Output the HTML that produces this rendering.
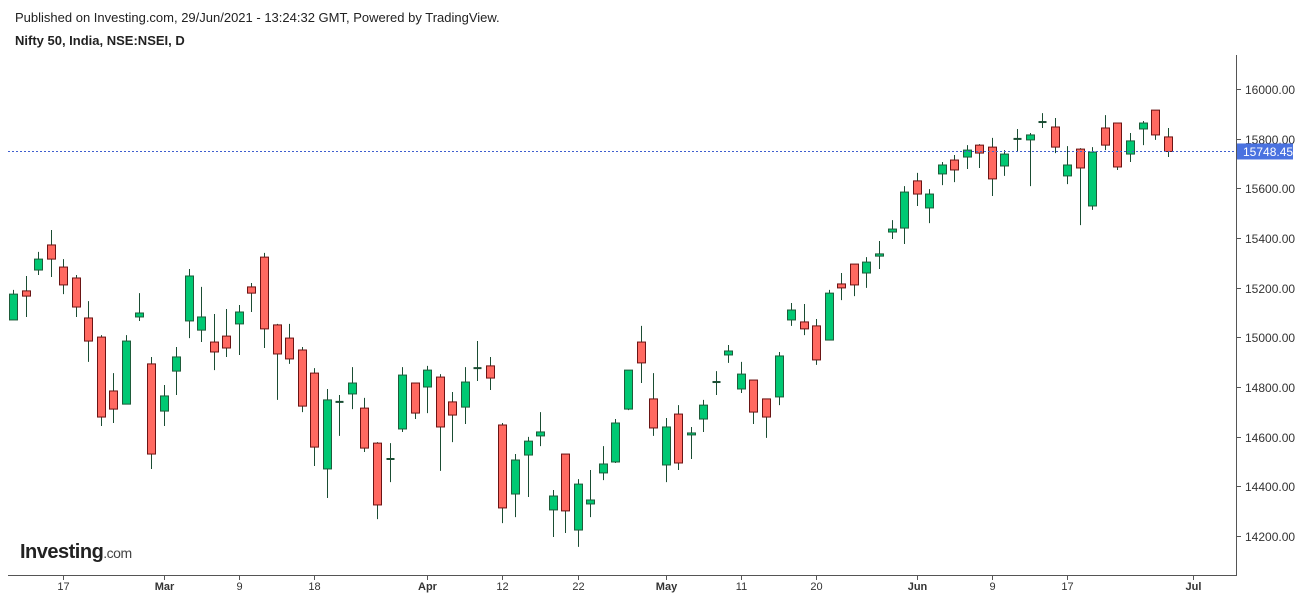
<!DOCTYPE html>
<html><head><meta charset="utf-8">
<style>
body{margin:0;background:#fff;font-family:"Liberation Sans",sans-serif;}
#wrap{position:relative;width:1299px;height:598px;overflow:hidden;}
.t1{position:absolute;left:15px;top:10px;font-size:13px;color:#222;}
.t2{position:absolute;left:15px;top:33px;font-size:13px;font-weight:bold;color:#222;}
svg text{font-family:"Liberation Sans",sans-serif;}
</style></head><body>
<div id="wrap">
<div class="t1">Published on Investing.com, 29/Jun/2021 - 13:24:32 GMT, Powered by TradingView.</div>
<div class="t2">Nifty 50, India, NSE:NSEI, D</div>
<svg id="svg" width="1299" height="598" style="position:absolute;left:0;top:0"></svg>
</div>
<script>
const opens=[15070,15187,15271,15372,15283,15239,15078,15001,14784,14731,15082,14893,14703,14864,15066,15029,14981,15005,15054,15203,15323,15050,14997,14949,14856,14470,14740,14772,14715,14574,14510,14631,14816,14800,14840,14740,14719,14876,14885,14647,14369,14526,14603,14305,14530,14224,14329,14454,14498,14711,14981,14752,14486,14691,14607,14671,14820,14929,14792,14828,14752,14760,15070,15062,15046,14989,15215,15295,15259,15327,15424,15440,15630,15521,15658,15714,15726,15774,15766,15690,15799,15795,15867,15847,15650,15758,15529,15843,15863,15738,15839,15915,15807];
const highs=[15191,15247,15344,15432,15315,15251,15146,15009,14856,15009,15178,14921,14808,14961,15275,15203,15094,15114,15130,15219,15340,15054,15054,14961,14876,14792,14768,14880,14756,14578,14574,14880,14816,14885,14852,14780,14880,14985,14921,14655,14530,14599,14699,14385,14530,14429,14466,14562,14671,14868,15046,14856,14675,14727,14639,14748,14864,14969,14901,14828,14752,14941,15138,15134,15074,15191,15259,15295,15323,15388,15472,15609,15662,15597,15706,15734,15774,15778,15803,15754,15839,15823,15903,15883,15770,15762,15766,15895,15863,15823,15871,15915,15843];
const lows=[15070,15082,15251,15243,15174,15082,14901,14643,14655,14731,15066,14470,14643,14768,14997,14981,14868,14921,14929,15102,14957,14748,14893,14699,14482,14353,14603,14711,14538,14268,14417,14619,14671,14695,14462,14578,14651,14824,14788,14252,14276,14357,14562,14196,14212,14156,14276,14425,14494,14707,14816,14603,14417,14466,14510,14619,14768,14897,14776,14651,14595,14727,15046,15009,14889,14989,15150,15166,15199,15275,15396,15376,15529,15460,15613,15625,15678,15682,15569,15650,15750,15609,15843,15742,15617,15452,15513,15754,15674,15706,15774,15795,15726];
const closes=[15174,15166,15315,15315,15211,15122,14985,14679,14711,14985,15098,14530,14764,14921,15247,15082,14941,14957,15102,15178,15034,14933,14913,14723,14558,14748,14740,14816,14554,14325,14510,14848,14695,14868,14639,14687,14820,14876,14836,14313,14506,14582,14619,14361,14301,14409,14345,14490,14655,14868,14897,14635,14639,14494,14615,14727,14820,14945,14852,14699,14679,14925,15110,15034,14909,15178,15199,15211,15303,15336,15436,15585,15577,15577,15694,15674,15754,15742,15638,15738,15799,15815,15867,15766,15694,15682,15746,15774,15686,15791,15863,15815,15748.45];
const yTicks=[14200,14400,14600,14800,15000,15200,15400,15600,15800,16000];
const xLabels=["17","Mar","9","18","Apr","12","22","May","11","20","Jun","9","17","Jul"];
const xLabelIdx=[4,12,18,24,33,39,45,52,58,64,72,78,84,94];
const lastPrice=15748.45;

const NS="http://www.w3.org/2000/svg";
const svg=document.getElementById('svg');
function y(v){return 89+(16000-v)*0.24833;}
function x(i){return 13+i*12.55;}
function mk(tag,attrs,parent){const e=document.createElementNS(NS,tag);for(const k in attrs)e.setAttribute(k,attrs[k]);(parent||svg).appendChild(e);return e;}

// axes
let ax=mk('line',{x1:1236.5,y1:55,x2:1236.5,y2:575,stroke:'#555','stroke-width':1});


let bx=mk('line',{x1:8,y1:575.5,x2:1237,y2:575.5,stroke:'#555','stroke-width':1});



yTicks.forEach(v=>{
  const yy=Math.round(y(v))+0.5;
  let tk=mk('line',{x1:1236,y1:yy,x2:1241,y2:yy,stroke:'#555'});
  
  
  let t=mk('text',{x:1245,y:yy+4.5,'font-size':12,fill:'#333'});
  t.textContent=v.toFixed(2);
  
  
});
xLabels.forEach((l,k)=>{
  const xx=Math.round(x(xLabelIdx[k]))+0.5;
  let tk=mk('line',{x1:xx,y1:575,x2:xx,y2:580,stroke:'#555'});
  
  
  let t=mk('text',{x:xx,y:590,'font-size':11,fill:'#333','text-anchor':'middle','font-weight':(isNaN(+l)?'bold':'normal')});
  t.textContent=l;
  
  
});

// candles
for(let i=0;i<opens.length;i++){
  const o=opens[i],c=closes[i],h=highs[i],l=lows[i];
  const up=c>=o;
  const cx=Math.round(x(i))+0.5;
  const g=mk('g',{});
  
  
  mk('line',{x1:cx,y1:y(h),x2:cx,y2:y(l),stroke:'#1a4d33','stroke-width':1},g);
  const top=y(Math.max(o,c)),bot=y(Math.min(o,c));
  const hgt=Math.max(bot-top,1);
  if(hgt<=1.5){
    mk('line',{x1:cx-4,y1:top,x2:cx+4,y2:top,stroke:up?'#1a4d33':'#6b1414','stroke-width':2},g);
  }else{
    mk('rect',{x:cx-4,y:top,width:8,height:hgt,fill:up?'#00c873':'#ff6961',stroke:up?'#1e5c3a':'#6b1414','stroke-width':1},g);
  }
}

// last price line & label
const ly=y(lastPrice);
let dl=mk('line',{x1:8,y1:ly,x2:1236,y2:ly,stroke:'#3f5fcf','stroke-width':1,'stroke-dasharray':'2,2'});


let lb=mk('rect',{x:1237,y:ly-8,width:56,height:16,fill:'#4a72e0'});


let lt=mk('text',{x:1243,y:ly+4.5,'font-size':12,fill:'#fff'});
lt.textContent=lastPrice.toFixed(2);



// logo
let lg=mk('text',{x:20,y:558,'font-size':20,'font-weight':'bold',fill:'#222','letter-spacing':'-0.5'});


lg.innerHTML='Investing<tspan font-size="14" font-weight="normal" fill="#444">.com</tspan>';
</script>
</body></html>
